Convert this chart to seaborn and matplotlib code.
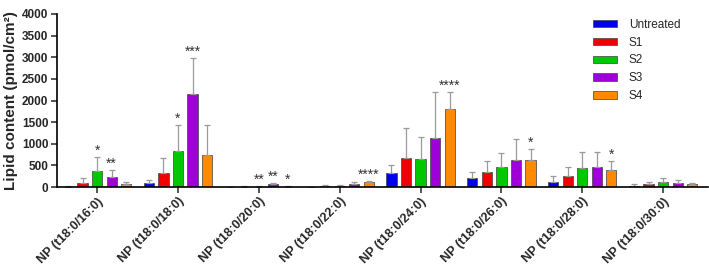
import numpy as np
import pandas as pd
import matplotlib
matplotlib.use("Agg")
import matplotlib.pyplot as plt
import seaborn as sns

# ──────────────────────────────────────────
# DATA
# ──────────────────────────────────────────
lipids = ["NP (t18:0/16:0)", "NP (t18:0/18:0)", "NP (t18:0/20:0)", "NP (t18:0/22:0)",
          "NP (t18:0/24:0)", "NP (t18:0/26:0)", "NP (t18:0/28:0)", "NP (t18:0/30:0)"]
groups = ["Untreated", "S1", "S2", "S3", "S4"]

untreated_mean = [10, 90, 3, 5, 330, 200, 125, 30]
untreated_sd = [10, 70, 3, 8, 190, 155, 120, 30]
s1_mean = [90, 330, 8, 20, 670, 355, 247, 62]
s1_sd = [110, 350, 8, 30, 700, 240, 215, 46]
s2_mean = [370, 840, 12, 30, 645, 462, 432, 108]
s2_sd = [330, 590, 10, 20, 510, 330, 380, 92]
s3_mean = [238, 2150, 70, 60, 1125, 617, 470, 92]
s3_sd = [148, 835, 25, 50, 1060, 485, 347, 62]
s4_mean = [70, 730, 12, 120, 1810, 632, 393, 62]
s4_sd = [55, 710, 10, 30, 380, 247, 208, 38]

# significance marks per group and lipid
untreated_sig = ["", "", "", "", "", "", "", ""]
s1_sig = ["", "", "", "", "", "", "", ""]
s2_sig = ["*", "*", "**", "", "", "", "", ""]
s3_sig = ["**", "***", "**", "", "", "", "", ""]
s4_sig = ["", "", "*", "****", "****", "*", "*", ""]

colors = ["#0000F0", "#F00000", "#00C800", "#A000D8", "#FF8A00"]

means = [untreated_mean, s1_mean, s2_mean, s3_mean, s4_mean]
sds = [untreated_sd, s1_sd, s2_sd, s3_sd, s4_sd]
sigs = [untreated_sig, s1_sig, s2_sig, s3_sig, s4_sig]

rows = []
for g, m in zip(groups, means):
    for lip, v in zip(lipids, m):
        rows.append({"lipid": lip, "group": g, "value": v})
df = pd.DataFrame(rows)

# ──────────────────────────────────────────
# PLOT
# ──────────────────────────────────────────
sns.set_style("ticks")
plt.rcParams["font.family"] = ["Liberation Sans", "DejaVu Sans"]

fig = plt.figure(figsize=(7.09, 2.68), dpi=100)
ax = fig.add_axes([0.080, 0.302, 0.918, 0.646])

sns.barplot(data=df, x="lipid", y="value", hue="group", hue_order=groups,
            palette=colors, saturation=1, width=0.9, gap=0.3, errorbar=None,
            edgecolor="0.25", linewidth=0.5, ax=ax)

# error bars (upper only) and stars, positioned on the drawn bars
for cont, sd, sig in zip(ax.containers, sds, sigs):
    for bar, e, s in zip(cont, sd, sig):
        xc = bar.get_x() + bar.get_width() / 2
        h = bar.get_height()
        ax.errorbar(xc, h, yerr=[[0], [e]], color="#9a9a9a", lw=0.9,
                    capsize=2.2, capthick=0.9, zorder=1)
        if s:
            ax.text(xc, h + e - 20, s, ha="center", va="bottom",
                    fontsize=10, color="#333333")

ax.set_ylim(0, 4000)
ax.set_xlim(-0.5, 7.55)
ax.set_yticks(range(0, 4001, 500))
ax.set_ylabel("Lipid content (pmol/cm²)", fontsize=11, fontweight="bold", labelpad=3)
ax.set_xlabel("")
for lab in ax.get_yticklabels():
    lab.set_fontweight("bold")
    lab.set_fontsize(8.5)
ax.set_xticks(range(len(lipids)))
ax.set_xticklabels(lipids, rotation=45, ha="right", rotation_mode="anchor",
                   fontsize=9, fontweight="bold")
ax.tick_params(axis="both", length=4, width=1.1, pad=2)
sns.despine(ax=ax)
for sp in ["left", "bottom"]:
    ax.spines[sp].set_linewidth(1.2)
    ax.spines[sp].set_color("black")

ax.legend(loc="upper left", bbox_to_anchor=(0.822, 0.97), bbox_transform=fig.transFigure,
          frameon=False, fontsize=8.5, handlelength=2.0, handleheight=0.6,
          labelspacing=0.5, handletextpad=1.0)

fig.savefig("out.png", dpi=100)
